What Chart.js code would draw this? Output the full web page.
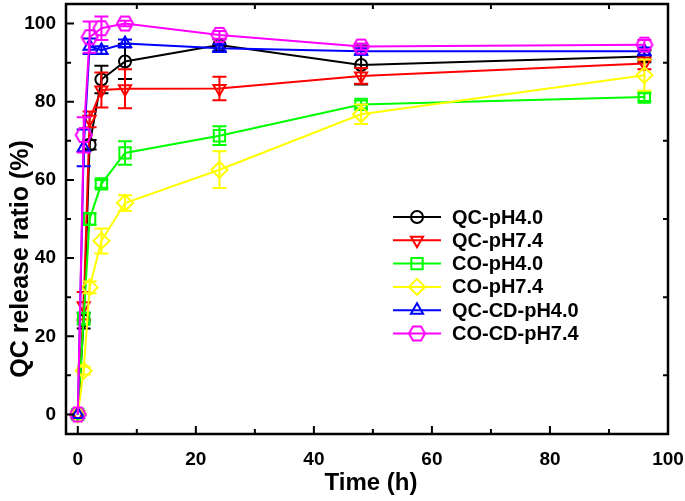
<!DOCTYPE html>
<html><head><meta charset="utf-8">
<script src="https://cdn.jsdelivr.net/npm/chart.js@4/dist/chart.umd.min.js"></script>
<style>html,body{margin:0;padding:0;background:#fff;}</style>
</head><body>
<canvas id="c" width="685" height="501"></canvas>
<script>
// ---- data ----
const times = [0, 1, 2, 4, 8, 24, 48, 96];
const seriesNames = ['QC-pH4.0', 'QC-pH7.4', 'CO-pH4.0', 'CO-pH7.4', 'QC-CD-pH4.0', 'CO-CD-pH7.4'];
const qcPH40      = [0, 24.0, 69.0, 85.7, 90.3, 94.5, 89.4, 91.6];
const qcPH40Err   = [0, 2.0, 1.2, 3.5, 4.5, 1.5, 5.0, 1.5];
const qcPH74      = [0, 27.8, 75.5, 83.0, 83.3, 83.4, 86.6, 89.8];
const qcPH74Err   = [0, 3.5, 2.0, 4.5, 5.0, 3.0, 2.0, 1.5];
const coPH40      = [0, 24.5, 50.0, 59.0, 66.9, 71.3, 79.3, 81.2];
const coPH40Err   = [0, 1.5, 1.5, 1.0, 3.0, 2.4, 1.0, 1.0];
const coPH74      = [0, 11.2, 32.5, 44.4, 54.1, 62.6, 76.8, 86.8];
const coPH74Err   = [0, 1.0, 1.5, 3.2, 2.0, 4.7, 2.5, 4.0];
const qccdPH40    = [0, 68.2, 94.2, 93.2, 94.9, 93.7, 92.9, 92.9];
const qccdPH40Err = [0, 4.7, 2.0, 1.0, 1.0, 1.0, 0.8, 1.0];
const cocdPH74    = [0, 71.5, 96.5, 98.8, 100.0, 97.1, 94.1, 94.6];
const cocdPH74Err = [0, 4.5, 4.0, 3.0, 0.7, 1.0, 0.8, 1.2];
const xMajorTicks = [0, 20, 40, 60, 80, 100];
const xMinorTicks = [10, 30, 50, 70, 90];
const yMajorTicks = [0, 20, 40, 60, 80, 100];
const yMinorTicks = [10, 30, 50, 70, 90];
const xTitle = 'Time (h)';
const yTitle = 'QC release ratio (%)';

const FONT = "'Liberation Sans', Arial, sans-serif";

function hexagon(color, r) {
  const s = Math.ceil(2 * r + 4);
  const c = document.createElement('canvas');
  c.width = s; c.height = s;
  const g = c.getContext('2d');
  g.strokeStyle = color; g.lineWidth = 2;
  g.beginPath();
  for (let k = 0; k < 6; k++) {
    const a = k * Math.PI / 3;
    const px = s / 2 + r * Math.cos(a), py = s / 2 + r * Math.sin(a);
    if (k === 0) g.moveTo(px, py); else g.lineTo(px, py);
  }
  g.closePath(); g.stroke();
  return c;
}

const values = [qcPH40, qcPH74, coPH40, coPH74, qccdPH40, cocdPH74];
const errs = [qcPH40Err, qcPH74Err, coPH40Err, coPH74Err, qccdPH40Err, cocdPH74Err];
const colors = ['#000000', '#ff0000', '#00ff00', '#ffff00', '#0000ff', '#ff00ff'];
const styles = ['circle', 'triangle', 'rect', 'rectRot', 'triangle', hexagon('#ff00ff', 8)];
const rotations = [0, 180, 0, 0, 0, 0];
const radii = [6, 7, 8, 8, 7, 8];

const datasets = seriesNames.map((name, i) => ({
  label: name,
  data: times.map((t, j) => ({ x: t, y: values[i][j] })),
  errs: errs[i],
  borderColor: colors[i],
  backgroundColor: 'rgba(0,0,0,0)',
  borderWidth: 2,
  pointStyle: styles[i],
  pointRotation: rotations[i],
  pointRadius: radii[i],
  pointBorderColor: colors[i],
  pointBackgroundColor: 'rgba(0,0,0,0)',
  pointBorderWidth: 2,
  tension: 0,
  order: seriesNames.length - i
}));

const errPlugin = {
  id: 'errbars',
  afterDatasetDraw(chart, args) {
    const ds = chart.data.datasets[args.index];
    const ys = chart.scales.y, ctx = chart.ctx;
    const a = chart.chartArea;
    ctx.save();
    ctx.beginPath(); ctx.rect(a.left, a.top, a.right - a.left, a.bottom - a.top); ctx.clip();
    ctx.strokeStyle = ds.borderColor; ctx.lineWidth = 2;
    args.meta.data.forEach((pt, j) => {
      const e = ds.errs[j];
      if (!e) return;
      const v = ds.data[j].y;
      const y1 = ys.getPixelForValue(v + e), y2 = ys.getPixelForValue(v - e);
      const x = pt.x;
      ctx.beginPath();
      ctx.moveTo(x, y1); ctx.lineTo(x, y2);
      ctx.moveTo(x - 7, y1); ctx.lineTo(x + 7, y1);
      ctx.moveTo(x - 7, y2); ctx.lineTo(x + 7, y2);
      ctx.stroke();
    });
    ctx.restore();
  }
};

const framePlugin = {
  id: 'frame',
  afterDraw(chart) {
    const ctx = chart.ctx, a = chart.chartArea;
    const xs = chart.scales.x, ys = chart.scales.y;
    ctx.save();
    ctx.strokeStyle = '#000'; ctx.lineWidth = 2.5;
    ctx.strokeRect(a.left, a.top, a.right - a.left, a.bottom - a.top);
    ctx.lineWidth = 2;
    ctx.beginPath();
    xMajorTicks.forEach(v => { const x = xs.getPixelForValue(v); ctx.moveTo(x, a.bottom); ctx.lineTo(x, a.bottom - 8); });
    xMinorTicks.forEach(v => { const x = xs.getPixelForValue(v); ctx.moveTo(x, a.bottom); ctx.lineTo(x, a.bottom - 5);
      ctx.moveTo(x, a.top); ctx.lineTo(x, a.top + 5); });
    yMajorTicks.forEach(v => { const y = ys.getPixelForValue(v); ctx.moveTo(a.left, y); ctx.lineTo(a.left + 8, y); });
    yMinorTicks.forEach(v => { const y = ys.getPixelForValue(v); ctx.moveTo(a.left, y); ctx.lineTo(a.left + 5, y);
      ctx.moveTo(a.right, y); ctx.lineTo(a.right - 5, y); });
    ctx.stroke();

    // axis titles
    ctx.fillStyle = '#000';
    ctx.textAlign = 'center';
    ctx.textBaseline = 'middle';
    ctx.font = 'bold 24px ' + FONT;
    ctx.fillText(xTitle, (a.left + a.right) / 2 + 4, 483);
    ctx.save();
    ctx.translate(21, 259);
    ctx.rotate(-Math.PI / 2);
    ctx.font = 'bold 25px ' + FONT;
    ctx.fillText(yTitle, 0, 0);
    ctx.restore();

    // legend
    const lx0 = 393, lx1 = 441, tx = 452, y0 = 217, dy = 23.3;
    ctx.font = 'bold 20px ' + FONT;
    ctx.textBaseline = 'middle';
    ctx.textAlign = 'left';
    chart.data.datasets.forEach((ds, i) => {
      const y = y0 + i * dy;
      ctx.strokeStyle = ds.borderColor; ctx.lineWidth = 2;
      ctx.beginPath(); ctx.moveTo(lx0, y); ctx.lineTo(lx1, y); ctx.stroke();
      ctx.fillStyle = 'rgba(0,0,0,0)';
      Chart.helpers.drawPoint(ctx, { pointStyle: ds.pointStyle, rotation: ds.pointRotation, radius: ds.pointRadius, borderWidth: 2 }, (lx0 + lx1) / 2, y);
      ctx.fillStyle = '#000';
      ctx.fillText(ds.label, tx, y + 1);
    });
    ctx.restore();
  }
};

new Chart(document.getElementById('c'), {
  type: 'line',
  data: { datasets },
  options: {
    responsive: false,
    animation: false,
    events: [],
    layout: { autoPadding: false, padding: { left: 0, right: 17, top: 4, bottom: 0 } },
    plugins: { legend: { display: false }, tooltip: { enabled: false } },
    scales: {
      x: {
        type: 'linear', min: -2, max: 100,
        afterBuildTicks: s => { s.ticks = xMajorTicks.map(v => ({ value: v })); },
        afterFit: s => { s.height = 67; s.paddingLeft = 0; s.paddingRight = 0; },
        grid: { display: false, drawTicks: false },
        border: { display: false },
        ticks: { color: '#000', font: { family: FONT, size: 19, weight: 'bold' }, padding: 14, maxRotation: 0, autoSkip: false },
        title: { display: false }
      },
      y: {
        type: 'linear', min: -5, max: 105,
        afterBuildTicks: s => { s.ticks = yMajorTicks.map(v => ({ value: v })); },
        afterFit: s => { s.width = 66; s.paddingTop = 0; s.paddingBottom = 0; },
        grid: { display: false, drawTicks: false },
        border: { display: false },
        ticks: { color: '#000', font: { family: FONT, size: 19, weight: 'bold' }, padding: 10, autoSkip: false },
        title: { display: false }
      }
    }
  },
  plugins: [errPlugin, framePlugin]
});
</script>
</body></html>
